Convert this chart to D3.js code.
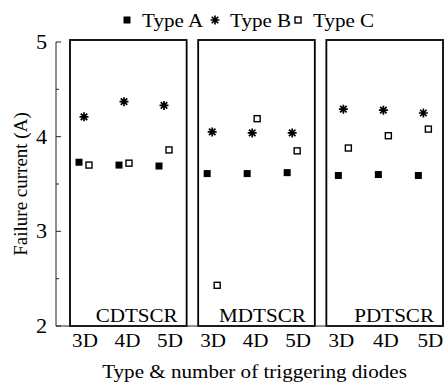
<!DOCTYPE html>
<html><head><meta charset="utf-8">
<script src="https://cdn.jsdelivr.net/npm/d3@7"></script>
<style>body{margin:0;background:#fff}svg{display:block}text{font-family:"Liberation Serif","Times New Roman",serif;fill:#000}</style>
</head><body><svg id="c" width="446" height="385"></svg>
<script>
const panels = ["CDTSCR","MDTSCR","PDTSCR"];
const diodes = ["3D","4D","5D"];
const types = ["Type A","Type B","Type C"];
// values[panel][diode]
const typeA = [[3.73,3.70,3.69],[3.61,3.61,3.62],[3.59,3.60,3.59]];
const typeB = [[4.21,4.37,4.33],[4.05,4.04,4.04],[4.29,4.28,4.25]];
const typeC = [[3.70,3.72,3.86],[2.43,4.19,3.85],[3.88,4.01,4.08]];
const yTicks = [2,3,4,5];
const yMinor = [2.5,3.5,4.5];

(function(){
const svg = d3.select("#c");
const fs = 19, sx = 1.11;
const plotL = 56, plotR = 443, yTop = 42, yBot = 326;
const y = d3.scaleLinear().domain([2,5]).range([yBot, yTop]);
const px = d3.scaleBand().domain(panels).range([70, 443]).paddingInner(0.09).paddingOuter(0);
const pLeft = p => px(p);
const pRight = p => px(p) + px.bandwidth();

function htext(x, yy, str, anchor, size, dy) {
  const t = svg.append("text").attr("transform", `translate(${x},${yy}) scale(${sx},1)`)
    .attr("text-anchor", anchor).attr("font-size", size || fs).text(str);
  if (dy) t.attr("dy", dy);
  return t;
}

// panel frames
panels.forEach(p => {
  svg.append("rect").attr("x", pLeft(p)).attr("y", yTop - 2)
    .attr("width", pRight(p) - pLeft(p)).attr("height", yBot - yTop + 2)
    .attr("fill","none").attr("stroke","#000").attr("stroke-width",1.8);
  htext(pRight(p) - 9, yBot - 4, p, "end");
});

// axes
svg.append("line").attr("x1",plotL).attr("x2",plotL).attr("y1",yTop).attr("y2",yBot).attr("stroke","#222").attr("stroke-width",1);
svg.append("line").attr("x1",plotL).attr("x2",plotR).attr("y1",yBot).attr("y2",yBot).attr("stroke","#222").attr("stroke-width",1);
yTicks.forEach(t => {
  svg.append("line").attr("x1",plotL).attr("x2",plotL+5).attr("y1",y(t)).attr("y2",y(t)).attr("stroke","#222");
  htext(plotL-9, y(t), t, "end", fs+1, "0.35em");
});
yMinor.forEach(t => {
  svg.append("line").attr("x1",plotL).attr("x2",plotL+3).attr("y1",y(t)).attr("y2",y(t)).attr("stroke","#222");
});
svg.append("text").attr("transform",`translate(27,${(yTop+yBot)/2}) rotate(-90)`)
  .attr("text-anchor","middle").attr("font-size",fs).text("Failure current (A)");
htext((plotL+plotR)/2 + 5, 378, "Type & number of triggering diodes", "middle");

const star = s => { const r = s/2, d = r*0.72;
  return `M${-r},0L${r},0M0,${-r}L0,${r}M${-d},${-d}L${d},${d}M${-d},${d}L${d},${-d}`; };

function drawMarker(g, type, cx, cy) {
  if (type === 0) g.append("rect").attr("x",cx-3.5).attr("y",cy-3.5).attr("width",7).attr("height",7).attr("fill","#000");
  else if (type === 1) g.append("path").attr("transform",`translate(${cx},${cy})`).attr("d",star(9)).attr("stroke","#000").attr("stroke-width",1.7).attr("fill","none");
  else g.append("rect").attr("x",cx-3).attr("y",cy-3).attr("width",6).attr("height",6).attr("fill","#fff").attr("stroke","#000").attr("stroke-width",1.4);
}

const series = [typeA, typeB, typeC];
const offsets = [-5, 0, 5];
const g = svg.append("g");
panels.forEach((p, pi) => {
  const sh = pi === 2 ? 3 : 0;
  const xs = d3.scalePoint().domain(diodes).range([pLeft(p) + 14 + sh, pLeft(p) + 94 + sh]);
  const xl = d3.scalePoint().domain(diodes).range([pLeft(p) + 15, pLeft(p) + 100 + (pi===2?4:0)]);
  diodes.forEach((d, di) => {
    series.forEach((s, si) => drawMarker(g, si, xs(d) + offsets[si], y(s[pi][di])));
    htext(xl(d), 347, d, "middle");
  });
});

// legend
const legX = [127, 215, 298];
types.forEach((t, i) => {
  drawMarker(svg, i, legX[i], 20);
  htext(legX[i] + 15, 27, t, "start");
});
})();
</script></body></html>
